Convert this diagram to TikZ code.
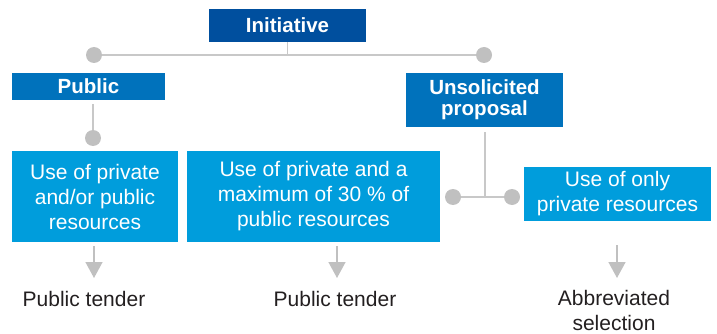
\documentclass[tikz,border=0pt]{standalone}
\usepackage{fontspec}
\setmainfont{Liberation Sans}
\usetikzlibrary{arrows.meta,calc}
\definecolor{darkblue}{HTML}{004F9E}
\definecolor{midblue}{HTML}{0072BC}
\definecolor{lightblue}{HTML}{009DDC}
\definecolor{conngray}{HTML}{C8C8C8}
\definecolor{dotgray}{HTML}{C0C0C0}
\definecolor{txt}{HTML}{231F20}
\begin{document}
\begin{tikzpicture}[x=1pt,y=-1pt,
  hdr/.style={fill=midblue,text=white,inner sep=0pt,align=center,
    font=\fontsize{20.5}{21}\selectfont\bfseries},
  opt/.style={fill=lightblue,text=white,inner sep=0pt,align=center,
    font=\fontsize{21}{25}\selectfont},
  dot/.style={circle,fill=dotgray,inner sep=0pt,minimum size=16pt},
  conn/.style={draw=conngray,line width=1.5pt},
  arr/.style={draw=dotgray,line width=1.5pt,-{Triangle[width=17pt,length=16pt]}},
  res/.style={text=txt,inner sep=0pt,align=center,font=\fontsize{21}{25}\selectfont}]
\useasboundingbox (0,0) rectangle (717,334);
% headers
\node[hdr,fill=darkblue,minimum width=157pt,minimum height=33pt] (init) at (287.5,25.5) {Initiative};
\node[hdr,minimum width=153pt,minimum height=27pt] (pub) at (88.5,86.5) {Public};
\node[hdr,minimum width=157pt,minimum height=54pt] (uns) at (484.5,100) {Unsolicited\\proposal};
% option boxes
\node[opt,minimum width=166pt,minimum height=91pt] (b1) at (95,196.5) {Use of private\\and/or public\\resources};
\node[opt,minimum width=253pt,minimum height=91pt] (b2) at (313.5,196.5) {Use of private and a\\maximum of 30 \% of\\public resources};
\node[opt,minimum width=187pt,minimum height=54pt] (b3) at (617.5,194) {Use of only\\private resources};
% dots and joints
\node[dot] (d1) at (94,55) {};
\node[dot] (d2) at (484,55) {};
\node[dot] (d3) at (93,138) {};
\node[dot] (d4) at (453,197) {};
\node[dot] (d5) at (512,197) {};
\coordinate (j1) at (287.5,55);
\coordinate (j2) at (485,197);
% connectors
\draw[conn] (d1) -- (d2);
\draw[conn] (init.south) -- (j1);
\draw[conn,shorten <=4pt] (pub.south -| d3) -- (d3);
\draw[conn,shorten <=5pt] (uns.south -| j2) -- (j2);
\draw[conn] (d4) -- (d5);
% results
\node[res,anchor=base] (r1) at (84,306) {Public tender};
\node[res,anchor=base] (r2) at (335,306) {Public tender};
\node[res,anchor=base] (r3) at (614,330) {Abbreviated\\selection};
\coordinate (a1) at (94,278);
\coordinate (a2) at (337,278);
\coordinate (a3) at (617,278);
\draw[arr,shorten <=4pt] (b1.south -| a1) -- (a1);
\draw[arr,shorten <=4pt] (b2.south -| a2) -- (a2);
\draw[arr,shorten <=4pt] (b3.south -| a3) ++(0,20) -- (a3);
\end{tikzpicture}
\end{document}
